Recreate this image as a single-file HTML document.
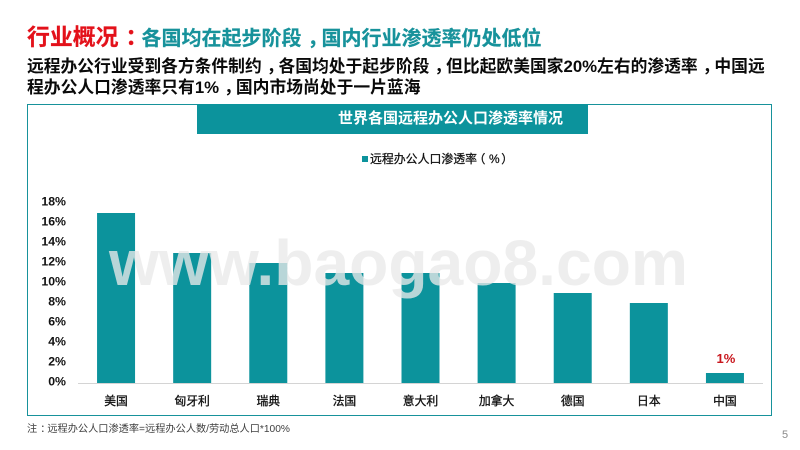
<!DOCTYPE html>
<html lang="zh">
<head>
<meta charset="utf-8">
<title>世界各国远程办公人口渗透率情况</title>
<style>
html,body{margin:0;padding:0;background:#fff;}
#page{position:relative;width:800px;height:450px;overflow:hidden;background:#fff;font-family:"Liberation Sans","Noto Sans CJK SC",sans-serif;}
#page div{position:absolute;white-space:nowrap;}
svg{position:absolute;left:0;top:0;}
.p{position:relative;left:.3em;}
.q{position:relative;left:-.3em;}
</style>
</head>
<body>
<div id="page">
  <div style="left:27px;top:22px;height:30px;line-height:30px;font-weight:700;-webkit-text-stroke:.2px currentColor;">
    <span style="color:#e3111a;font-size:22.9px;">行业概况<span class="p">：</span></span><span style="color:#17929b;font-size:20px;">各国均在起步阶段<span class="p">，</span>国内行业渗透率仍处低位</span>
  </div>
  <div style="left:27px;top:55px;height:24px;line-height:24px;font-size:16.77px;font-weight:700;color:#0a0a0a;">远程办公行业受到各方条件制约<span class="p">，</span>各国均处于起步阶段<span class="p">，</span>但比起欧美国家20%左右的渗透率<span class="p">，</span>中国远</div>
  <div style="left:27px;top:76px;height:24px;line-height:24px;font-size:16.8px;font-weight:700;color:#0a0a0a;">程办公人口渗透率只有1%<span class="p">，</span>国内市场尚处于一片蓝海</div>
  <div style="left:27px;top:104px;width:743px;height:310px;border:1px solid #17929b;"></div>
  <div style="left:197px;top:104px;width:391px;height:30px;background:#0c939c;"></div>
  <div style="left:338px;top:104px;height:30px;line-height:30px;font-size:15px;font-weight:700;color:#fff;">世界各国远程办公人口渗透率情况</div>
  <div style="left:362px;top:156px;width:6px;height:6px;background:#0c939c;"></div>
  <div style="left:370px;top:150px;height:18px;line-height:18px;font-size:11.9px;color:#111;-webkit-text-stroke:.25px #111;">远程办公人口渗透率<span class="q">（</span>%<span class="p" style="left:.15em">）</span></div>
  <svg id="chart" width="800" height="450" viewBox="0 0 800 450"></svg>
  <div style="left:27px;top:422px;height:16px;line-height:16px;font-size:10.2px;color:#404040;">注<span class="p">：</span>远程办公人口渗透率=远程办公人数/劳动总人口*100%</div>
  <div style="left:782px;top:427px;height:16px;line-height:16px;font-size:11px;color:#8a8a8a;">5</div>
</div>
<script>
const categories = ['美国','匈牙利','瑞典','法国','意大利','加拿大','德国','日本','中国'];
const penetration = [17,13,12,11,11,10,9,8,1];
const yTicks = [0,2,4,6,8,10,12,14,16,18];
const printedLabels = {8:'1%'};
const watermarkText = 'www.baogao8.com';

const svg = document.getElementById('chart');
const NS = 'http://www.w3.org/2000/svg';
const plot = {left:78, right:763, base:383, pxPerUnit:10, barWidth:38};
function xBand(i){ return plot.left + (plot.right-plot.left)*(i+0.5)/categories.length; }
function yVal(v){ return plot.base - v*plot.pxPerUnit; }
function mk(tag, attrs, text){
  const el = document.createElementNS(NS, tag);
  Object.keys(attrs).forEach(k => el.setAttribute(k, attrs[k]));
  if (text !== undefined) el.textContent = text;
  svg.appendChild(el);
  return el;
}

penetration.forEach((v,i) => {
  const bar = mk('rect', {x:xBand(i)-plot.barWidth/2, y:yVal(v), width:plot.barWidth, height:plot.base-yVal(v), fill:'#0c939c'});
  
  
});

const axis = mk('line', {x1:plot.left, x2:plot.right, y1:plot.base+0.5, y2:plot.base+0.5, stroke:'#d4d4d4', 'stroke-width':1});



yTicks.forEach(t => {
  const lab = mk('text', {x:66, y:yVal(t)+2.5, 'text-anchor':'end', 'font-size':12.3, 'font-weight':700, fill:'#111'}, t + '%');
  
  
});

categories.forEach((c,i) => {
  const lab = mk('text', {x:xBand(i), y:405, 'text-anchor':'middle', 'font-size':11.8, fill:'#111', stroke:'#111', 'stroke-width':0.3}, c);
  
  
});

Object.keys(printedLabels).forEach(k => {
  const i = Number(k);
  const lab = mk('text', {x:xBand(i)+1, y:yVal(penetration[i])-10, 'text-anchor':'middle', 'font-size':13, 'font-weight':700, fill:'#c8161d'}, printedLabels[k]);
  
  
});

const wm = mk('text', {x:109, y:285, 'font-size':64.2, 'font-weight':700, fill:'rgba(233,233,233,0.78)'}, watermarkText);


</script>
</body>
</html>
